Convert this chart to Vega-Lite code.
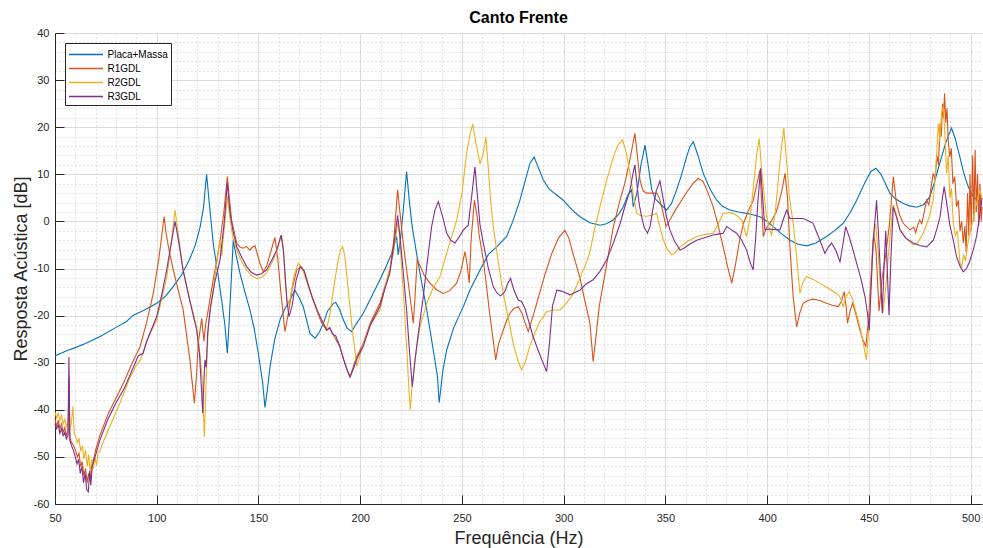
{
"$schema":"https://vega.github.io/schema/vega-lite/v6.json",
"width":927,"height":471,
"autosize":{"type":"none"},
"padding":{"left":55,"top":33,"right":1,"bottom":44},
"background":"white",
"config":{"view":{"stroke":null},"font":"Liberation Sans"},
"title":{"text":"Canto Frente","fontSize":16,"fontWeight":"bold","font":"Liberation Sans","color":"#000000","anchor":"middle","frame":"group","offset":1},
"data":{"values":[
{"serie":"Placa+Massa","freq":50,"db":-28.6},{"serie":"Placa+Massa","freq":53,"db":-28},{"serie":"Placa+Massa","freq":56,"db":-27.4},{"serie":"Placa+Massa","freq":60,"db":-26.8},{"serie":"Placa+Massa","freq":65,"db":-25.9},{"serie":"Placa+Massa","freq":72,"db":-24.5},{"serie":"Placa+Massa","freq":80,"db":-22.5},{"serie":"Placa+Massa","freq":85,"db":-21.3},{"serie":"Placa+Massa","freq":88.5,"db":-19.9},{"serie":"Placa+Massa","freq":94,"db":-18.8},{"serie":"Placa+Massa","freq":100,"db":-17.4},{"serie":"Placa+Massa","freq":104,"db":-16},{"serie":"Placa+Massa","freq":108,"db":-13.9},{"serie":"Placa+Massa","freq":112,"db":-11.5},{"serie":"Placa+Massa","freq":116,"db":-8.2},{"serie":"Placa+Massa","freq":119,"db":-5},{"serie":"Placa+Massa","freq":121.3,"db":-1.2},{"serie":"Placa+Massa","freq":123,"db":3},{"serie":"Placa+Massa","freq":124.5,"db":10},{"serie":"Placa+Massa","freq":125.8,"db":4},{"serie":"Placa+Massa","freq":127.8,"db":-4.8},{"serie":"Placa+Massa","freq":130,"db":-11},{"serie":"Placa+Massa","freq":131.9,"db":-16.7},{"serie":"Placa+Massa","freq":133.5,"db":-22},{"serie":"Placa+Massa","freq":134.7,"db":-28},{"serie":"Placa+Massa","freq":135.5,"db":-22},{"serie":"Placa+Massa","freq":136.3,"db":-15.3},{"serie":"Placa+Massa","freq":137.6,"db":-4},{"serie":"Placa+Massa","freq":138.2,"db":-5.5},{"serie":"Placa+Massa","freq":140.9,"db":-11},{"serie":"Placa+Massa","freq":143,"db":-14.5},{"serie":"Placa+Massa","freq":145.8,"db":-18.8},{"serie":"Placa+Massa","freq":148,"db":-23},{"serie":"Placa+Massa","freq":149.9,"db":-28},{"serie":"Placa+Massa","freq":152,"db":-34},{"serie":"Placa+Massa","freq":153.2,"db":-39.5},{"serie":"Placa+Massa","freq":154.3,"db":-36},{"serie":"Placa+Massa","freq":155.7,"db":-30.8},{"serie":"Placa+Massa","freq":158,"db":-25},{"serie":"Placa+Massa","freq":160.6,"db":-20.9},{"serie":"Placa+Massa","freq":163,"db":-18.5},{"serie":"Placa+Massa","freq":165.5,"db":-16.7},{"serie":"Placa+Massa","freq":167.9,"db":-14.6},{"serie":"Placa+Massa","freq":170,"db":-16.2},{"serie":"Placa+Massa","freq":172,"db":-18.1},{"serie":"Placa+Massa","freq":175.3,"db":-23.8},{"serie":"Placa+Massa","freq":177.8,"db":-24.8},{"serie":"Placa+Massa","freq":180,"db":-23.5},{"serie":"Placa+Massa","freq":181.9,"db":-21.6},{"serie":"Placa+Massa","freq":184,"db":-19},{"serie":"Placa+Massa","freq":186.8,"db":-17.4},{"serie":"Placa+Massa","freq":188,"db":-17.2},{"serie":"Placa+Massa","freq":190,"db":-18.8},{"serie":"Placa+Massa","freq":191.7,"db":-20.9},{"serie":"Placa+Massa","freq":193.5,"db":-22.6},{"serie":"Placa+Massa","freq":195.8,"db":-23.4},{"serie":"Placa+Massa","freq":198,"db":-21.8},{"serie":"Placa+Massa","freq":201.5,"db":-19.5},{"serie":"Placa+Massa","freq":205,"db":-16.5},{"serie":"Placa+Massa","freq":209.7,"db":-12.4},{"serie":"Placa+Massa","freq":213,"db":-9.3},{"serie":"Placa+Massa","freq":215.5,"db":-6.8},{"serie":"Placa+Massa","freq":217.9,"db":-3.2},{"serie":"Placa+Massa","freq":218.7,"db":-7.1},{"serie":"Placa+Massa","freq":220,"db":-3},{"serie":"Placa+Massa","freq":221.5,"db":4},{"serie":"Placa+Massa","freq":222.8,"db":10.6},{"serie":"Placa+Massa","freq":224,"db":5},{"serie":"Placa+Massa","freq":225.5,"db":-1},{"serie":"Placa+Massa","freq":227.7,"db":-6.8},{"serie":"Placa+Massa","freq":230,"db":-12.5},{"serie":"Placa+Massa","freq":232.7,"db":-18.8},{"serie":"Placa+Massa","freq":235.9,"db":-27.3},{"serie":"Placa+Massa","freq":238,"db":-33},{"serie":"Placa+Massa","freq":238.8,"db":-38.5},{"serie":"Placa+Massa","freq":239.5,"db":-36},{"serie":"Placa+Massa","freq":240.5,"db":-32},{"serie":"Placa+Massa","freq":242.5,"db":-27.3},{"serie":"Placa+Massa","freq":246,"db":-22.5},{"serie":"Placa+Massa","freq":250.7,"db":-18.1},{"serie":"Placa+Massa","freq":254,"db":-14.5},{"serie":"Placa+Massa","freq":258.9,"db":-10.3},{"serie":"Placa+Massa","freq":263,"db":-7},{"serie":"Placa+Massa","freq":267.1,"db":-5.4},{"serie":"Placa+Massa","freq":272,"db":-3.2},{"serie":"Placa+Massa","freq":275,"db":0},{"serie":"Placa+Massa","freq":278.5,"db":4.5},{"serie":"Placa+Massa","freq":281,"db":8.5},{"serie":"Placa+Massa","freq":283.4,"db":12.3},{"serie":"Placa+Massa","freq":285.5,"db":13.7},{"serie":"Placa+Massa","freq":287,"db":12},{"serie":"Placa+Massa","freq":290,"db":8.8},{"serie":"Placa+Massa","freq":293,"db":6.8},{"serie":"Placa+Massa","freq":296.6,"db":5.6},{"serie":"Placa+Massa","freq":299.8,"db":4.5},{"serie":"Placa+Massa","freq":304,"db":2.5},{"serie":"Placa+Massa","freq":308,"db":1},{"serie":"Placa+Massa","freq":312.9,"db":-0.3},{"serie":"Placa+Massa","freq":317.8,"db":-0.8},{"serie":"Placa+Massa","freq":321,"db":-0.5},{"serie":"Placa+Massa","freq":324.4,"db":0.3},{"serie":"Placa+Massa","freq":327,"db":1.5},{"serie":"Placa+Massa","freq":329.3,"db":3.1},{"serie":"Placa+Massa","freq":331.5,"db":5.5},{"serie":"Placa+Massa","freq":333.4,"db":6.7},{"serie":"Placa+Massa","freq":334.2,"db":3.1},{"serie":"Placa+Massa","freq":336,"db":6},{"serie":"Placa+Massa","freq":338,"db":12},{"serie":"Placa+Massa","freq":340,"db":16.2},{"serie":"Placa+Massa","freq":341.5,"db":12},{"serie":"Placa+Massa","freq":343.3,"db":6.7},{"serie":"Placa+Massa","freq":345,"db":4.8},{"serie":"Placa+Massa","freq":347.3,"db":3.8},{"serie":"Placa+Massa","freq":350.6,"db":2.4},{"serie":"Placa+Massa","freq":353,"db":3.8},{"serie":"Placa+Massa","freq":355.5,"db":6.7},{"serie":"Placa+Massa","freq":358,"db":10},{"serie":"Placa+Massa","freq":360.4,"db":13.7},{"serie":"Placa+Massa","freq":362,"db":15.8},{"serie":"Placa+Massa","freq":363.7,"db":16.9},{"serie":"Placa+Massa","freq":366,"db":14},{"serie":"Placa+Massa","freq":368.6,"db":10.2},{"serie":"Placa+Massa","freq":372,"db":6.8},{"serie":"Placa+Massa","freq":375.2,"db":4.5},{"serie":"Placa+Massa","freq":378,"db":3.2},{"serie":"Placa+Massa","freq":381.7,"db":2.4},{"serie":"Placa+Massa","freq":386,"db":2},{"serie":"Placa+Massa","freq":389.9,"db":1.7},{"serie":"Placa+Massa","freq":393,"db":1.4},{"serie":"Placa+Massa","freq":396.5,"db":1},{"serie":"Placa+Massa","freq":400,"db":0},{"serie":"Placa+Massa","freq":403,"db":-1.1},{"serie":"Placa+Massa","freq":407,"db":-2.6},{"serie":"Placa+Massa","freq":411.2,"db":-4},{"serie":"Placa+Massa","freq":415,"db":-4.8},{"serie":"Placa+Massa","freq":419.4,"db":-5.2},{"serie":"Placa+Massa","freq":424,"db":-4.6},{"serie":"Placa+Massa","freq":429.2,"db":-3.2},{"serie":"Placa+Massa","freq":433,"db":-2},{"serie":"Placa+Massa","freq":437.4,"db":-0.4},{"serie":"Placa+Massa","freq":441,"db":2},{"serie":"Placa+Massa","freq":444,"db":4.5},{"serie":"Placa+Massa","freq":448,"db":8.2},{"serie":"Placa+Massa","freq":451,"db":10.6},{"serie":"Placa+Massa","freq":453.4,"db":11.3},{"serie":"Placa+Massa","freq":456,"db":10},{"serie":"Placa+Massa","freq":460.3,"db":6},{"serie":"Placa+Massa","freq":463,"db":4.8},{"serie":"Placa+Massa","freq":466.9,"db":3.8},{"serie":"Placa+Massa","freq":470,"db":3.3},{"serie":"Placa+Massa","freq":473.4,"db":3},{"serie":"Placa+Massa","freq":477,"db":3.6},{"serie":"Placa+Massa","freq":479.9,"db":5.2},{"serie":"Placa+Massa","freq":482,"db":8},{"serie":"Placa+Massa","freq":484.8,"db":12.3},{"serie":"Placa+Massa","freq":488,"db":17},{"serie":"Placa+Massa","freq":490.6,"db":19.8},{"serie":"Placa+Massa","freq":492.5,"db":17.5},{"serie":"Placa+Massa","freq":494.7,"db":13.7},{"serie":"Placa+Massa","freq":496.5,"db":10.5},{"serie":"Placa+Massa","freq":498.8,"db":7.4},{"serie":"Placa+Massa","freq":501.3,"db":5.2},{"serie":"Placa+Massa","freq":503.5,"db":4.5},{"serie":"Placa+Massa","freq":505.6,"db":3.5},
{"serie":"R1GDL","freq":50,"db":-42},{"serie":"R1GDL","freq":50.8,"db":-43.5},{"serie":"R1GDL","freq":51.6,"db":-42.2},{"serie":"R1GDL","freq":52.4,"db":-44},{"serie":"R1GDL","freq":53.2,"db":-43},{"serie":"R1GDL","freq":54,"db":-44.8},{"serie":"R1GDL","freq":54.8,"db":-43.8},{"serie":"R1GDL","freq":55.6,"db":-45.5},{"serie":"R1GDL","freq":56.4,"db":-44.5},{"serie":"R1GDL","freq":56.9,"db":-33},{"serie":"R1GDL","freq":57.3,"db":-46},{"serie":"R1GDL","freq":58,"db":-46.8},{"serie":"R1GDL","freq":59,"db":-47.5},{"serie":"R1GDL","freq":60,"db":-48.5},{"serie":"R1GDL","freq":61,"db":-50},{"serie":"R1GDL","freq":61.8,"db":-49.2},{"serie":"R1GDL","freq":62.6,"db":-52},{"serie":"R1GDL","freq":63.4,"db":-51},{"serie":"R1GDL","freq":64.2,"db":-54},{"serie":"R1GDL","freq":65,"db":-52.5},{"serie":"R1GDL","freq":65.8,"db":-55.5},{"serie":"R1GDL","freq":66.5,"db":-53.5},{"serie":"R1GDL","freq":67.2,"db":-55},{"serie":"R1GDL","freq":68,"db":-52},{"serie":"R1GDL","freq":69,"db":-50.5},{"serie":"R1GDL","freq":70,"db":-48.5},{"serie":"R1GDL","freq":72,"db":-45.5},{"serie":"R1GDL","freq":76,"db":-41},{"serie":"R1GDL","freq":80,"db":-37.5},{"serie":"R1GDL","freq":84,"db":-34},{"serie":"R1GDL","freq":88,"db":-30},{"serie":"R1GDL","freq":91.8,"db":-26.6},{"serie":"R1GDL","freq":95,"db":-21.5},{"serie":"R1GDL","freq":98.3,"db":-15.3},{"serie":"R1GDL","freq":101,"db":-8},{"serie":"R1GDL","freq":102.5,"db":-3},{"serie":"R1GDL","freq":103.6,"db":1},{"serie":"R1GDL","freq":104.6,"db":-2.5},{"serie":"R1GDL","freq":106,"db":-6},{"serie":"R1GDL","freq":108.1,"db":-10.3},{"serie":"R1GDL","freq":110.5,"db":-14.5},{"serie":"R1GDL","freq":113,"db":-18.8},{"serie":"R1GDL","freq":116.3,"db":-29.4},{"serie":"R1GDL","freq":117.5,"db":-34.5},{"serie":"R1GDL","freq":118.5,"db":-38.6},{"serie":"R1GDL","freq":119.5,"db":-33},{"serie":"R1GDL","freq":120.4,"db":-25.9},{"serie":"R1GDL","freq":122.1,"db":-20.6},{"serie":"R1GDL","freq":123.2,"db":-25.5},{"serie":"R1GDL","freq":124,"db":-22},{"serie":"R1GDL","freq":125.3,"db":-18.8},{"serie":"R1GDL","freq":127.5,"db":-13},{"serie":"R1GDL","freq":129.5,"db":-8.3},{"serie":"R1GDL","freq":131.5,"db":-3},{"serie":"R1GDL","freq":133,"db":2},{"serie":"R1GDL","freq":134.7,"db":9.5},{"serie":"R1GDL","freq":135.7,"db":5},{"serie":"R1GDL","freq":136.8,"db":0.2},{"serie":"R1GDL","freq":139.3,"db":-4.6},{"serie":"R1GDL","freq":141,"db":-5.5},{"serie":"R1GDL","freq":142.5,"db":-5.7},{"serie":"R1GDL","freq":144,"db":-5.3},{"serie":"R1GDL","freq":145.8,"db":-6.1},{"serie":"R1GDL","freq":147,"db":-5.5},{"serie":"R1GDL","freq":148.3,"db":-5.2},{"serie":"R1GDL","freq":149.5,"db":-7},{"serie":"R1GDL","freq":150.7,"db":-8.9},{"serie":"R1GDL","freq":152.4,"db":-10.7},{"serie":"R1GDL","freq":154,"db":-9.5},{"serie":"R1GDL","freq":156,"db":-6.5},{"serie":"R1GDL","freq":158.1,"db":-3.4},{"serie":"R1GDL","freq":159.5,"db":-8},{"serie":"R1GDL","freq":161,"db":-15},{"serie":"R1GDL","freq":163,"db":-23.4},{"serie":"R1GDL","freq":164.5,"db":-20},{"serie":"R1GDL","freq":166.5,"db":-14.5},{"serie":"R1GDL","freq":168.8,"db":-10.3},{"serie":"R1GDL","freq":171.2,"db":-9.6},{"serie":"R1GDL","freq":173,"db":-11.5},{"serie":"R1GDL","freq":175.5,"db":-15},{"serie":"R1GDL","freq":178.6,"db":-18.8},{"serie":"R1GDL","freq":181,"db":-21.5},{"serie":"R1GDL","freq":183.5,"db":-23.1},{"serie":"R1GDL","freq":185.1,"db":-22.7},{"serie":"R1GDL","freq":188,"db":-25},{"serie":"R1GDL","freq":190,"db":-26.6},{"serie":"R1GDL","freq":192,"db":-29.5},{"serie":"R1GDL","freq":194,"db":-32},{"serie":"R1GDL","freq":195,"db":-33},{"serie":"R1GDL","freq":196.5,"db":-31},{"serie":"R1GDL","freq":198,"db":-29},{"serie":"R1GDL","freq":201.5,"db":-25.9},{"serie":"R1GDL","freq":205,"db":-21.5},{"serie":"R1GDL","freq":209.7,"db":-17.4},{"serie":"R1GDL","freq":212,"db":-14},{"serie":"R1GDL","freq":214.6,"db":-10.3},{"serie":"R1GDL","freq":216.5,"db":-4},{"serie":"R1GDL","freq":218.4,"db":6.7},{"serie":"R1GDL","freq":219.5,"db":2},{"serie":"R1GDL","freq":221,"db":-4},{"serie":"R1GDL","freq":222.8,"db":-10.3},{"serie":"R1GDL","freq":224.5,"db":-16},{"serie":"R1GDL","freq":226.1,"db":-21.6},{"serie":"R1GDL","freq":226.8,"db":-17},{"serie":"R1GDL","freq":228,"db":-8.2},{"serie":"R1GDL","freq":229.5,"db":-9.5},{"serie":"R1GDL","freq":231.5,"db":-11.5},{"serie":"R1GDL","freq":234.3,"db":-13.1},{"serie":"R1GDL","freq":237.5,"db":-14.5},{"serie":"R1GDL","freq":240.8,"db":-15.3},{"serie":"R1GDL","freq":244,"db":-14.7},{"serie":"R1GDL","freq":247.4,"db":-13.1},{"serie":"R1GDL","freq":249.5,"db":-10.5},{"serie":"R1GDL","freq":251.5,"db":-6.4},{"serie":"R1GDL","freq":252.5,"db":-9},{"serie":"R1GDL","freq":253.6,"db":-13.1},{"serie":"R1GDL","freq":254.5,"db":-4},{"serie":"R1GDL","freq":256.1,"db":4.5},{"serie":"R1GDL","freq":257.5,"db":1},{"serie":"R1GDL","freq":258.5,"db":-3},{"serie":"R1GDL","freq":260.5,"db":-8.2},{"serie":"R1GDL","freq":262,"db":-13.5},{"serie":"R1GDL","freq":263.8,"db":-20.2},{"serie":"R1GDL","freq":265.3,"db":-25},{"serie":"R1GDL","freq":266.6,"db":-29.4},{"serie":"R1GDL","freq":268,"db":-26},{"serie":"R1GDL","freq":270.3,"db":-23.1},{"serie":"R1GDL","freq":272,"db":-21},{"serie":"R1GDL","freq":273.6,"db":-19.5},{"serie":"R1GDL","freq":275.5,"db":-18.5},{"serie":"R1GDL","freq":277.7,"db":-18.1},{"serie":"R1GDL","freq":279.5,"db":-19.5},{"serie":"R1GDL","freq":281,"db":-21.5},{"serie":"R1GDL","freq":282.6,"db":-23.4},{"serie":"R1GDL","freq":285,"db":-20},{"serie":"R1GDL","freq":288,"db":-15.5},{"serie":"R1GDL","freq":291,"db":-11},{"serie":"R1GDL","freq":294,"db":-7},{"serie":"R1GDL","freq":297.5,"db":-3.5},{"serie":"R1GDL","freq":300.6,"db":-1.9},{"serie":"R1GDL","freq":302.5,"db":-3.5},{"serie":"R1GDL","freq":305,"db":-7.5},{"serie":"R1GDL","freq":308,"db":-12},{"serie":"R1GDL","freq":310,"db":-16},{"serie":"R1GDL","freq":312.9,"db":-21.6},{"serie":"R1GDL","freq":314.5,"db":-29.8},{"serie":"R1GDL","freq":316,"db":-24},{"serie":"R1GDL","freq":317.5,"db":-18},{"serie":"R1GDL","freq":319.5,"db":-13.1},{"serie":"R1GDL","freq":322,"db":-7},{"serie":"R1GDL","freq":324.5,"db":-1},{"serie":"R1GDL","freq":327.7,"db":4.5},{"serie":"R1GDL","freq":330,"db":8},{"serie":"R1GDL","freq":332.5,"db":13},{"serie":"R1GDL","freq":335,"db":18.7},{"serie":"R1GDL","freq":336.2,"db":14},{"serie":"R1GDL","freq":337.5,"db":8.8},{"serie":"R1GDL","freq":339,"db":6.5},{"serie":"R1GDL","freq":340.8,"db":6},{"serie":"R1GDL","freq":343,"db":6},{"serie":"R1GDL","freq":345.7,"db":6},{"serie":"R1GDL","freq":347,"db":5},{"serie":"R1GDL","freq":348.5,"db":2.5},{"serie":"R1GDL","freq":350.3,"db":-1.1},{"serie":"R1GDL","freq":352.5,"db":0.5},{"serie":"R1GDL","freq":355,"db":2.5},{"serie":"R1GDL","freq":358,"db":4.5},{"serie":"R1GDL","freq":361,"db":6.5},{"serie":"R1GDL","freq":363.5,"db":8},{"serie":"R1GDL","freq":366.2,"db":9.1},{"serie":"R1GDL","freq":368.5,"db":8.5},{"serie":"R1GDL","freq":371,"db":6},{"serie":"R1GDL","freq":373.5,"db":3.1},{"serie":"R1GDL","freq":376,"db":-1},{"serie":"R1GDL","freq":378.4,"db":-5.4},{"serie":"R1GDL","freq":380.5,"db":-9.5},{"serie":"R1GDL","freq":382.6,"db":-13.1},{"serie":"R1GDL","freq":384.5,"db":-9},{"serie":"R1GDL","freq":386.5,"db":-4},{"serie":"R1GDL","freq":388.3,"db":-0.5},{"serie":"R1GDL","freq":391,"db":2.5},{"serie":"R1GDL","freq":393.2,"db":4.5},{"serie":"R1GDL","freq":395,"db":8},{"serie":"R1GDL","freq":396.5,"db":10.9},{"serie":"R1GDL","freq":397.3,"db":4},{"serie":"R1GDL","freq":398.1,"db":-3.2},{"serie":"R1GDL","freq":399.5,"db":-1.5},{"serie":"R1GDL","freq":402,"db":0},{"serie":"R1GDL","freq":404.5,"db":2},{"serie":"R1GDL","freq":407,"db":6},{"serie":"R1GDL","freq":408.8,"db":10.2},{"serie":"R1GDL","freq":410,"db":5},{"serie":"R1GDL","freq":411.2,"db":-5.4},{"serie":"R1GDL","freq":412.8,"db":-16},{"serie":"R1GDL","freq":414.5,"db":-22.4},{"serie":"R1GDL","freq":416,"db":-19.5},{"serie":"R1GDL","freq":417.7,"db":-17.4},{"serie":"R1GDL","freq":420,"db":-16.8},{"serie":"R1GDL","freq":422.6,"db":-16.5},{"serie":"R1GDL","freq":426,"db":-16.8},{"serie":"R1GDL","freq":429.2,"db":-17.4},{"serie":"R1GDL","freq":432,"db":-17.8},{"serie":"R1GDL","freq":434.9,"db":-18.1},{"serie":"R1GDL","freq":436.5,"db":-17},{"serie":"R1GDL","freq":437.9,"db":-14.9},{"serie":"R1GDL","freq":438.8,"db":-18},{"serie":"R1GDL","freq":439.5,"db":-21.6},{"serie":"R1GDL","freq":440.8,"db":-19},{"serie":"R1GDL","freq":442,"db":-17.4},{"serie":"R1GDL","freq":443.5,"db":-19.5},{"serie":"R1GDL","freq":445.6,"db":-23.1},{"serie":"R1GDL","freq":447,"db":-25},{"serie":"R1GDL","freq":448.5,"db":-26.6},{"serie":"R1GDL","freq":450,"db":-20},{"serie":"R1GDL","freq":451.3,"db":-10},{"serie":"R1GDL","freq":452.3,"db":-2.5},{"serie":"R1GDL","freq":453.5,"db":-6},{"serie":"R1GDL","freq":455,"db":-19},{"serie":"R1GDL","freq":456.5,"db":-12},{"serie":"R1GDL","freq":458,"db":-8},{"serie":"R1GDL","freq":460,"db":-1},{"serie":"R1GDL","freq":461,"db":4},{"serie":"R1GDL","freq":462,"db":9.5},{"serie":"R1GDL","freq":463.6,"db":3.8},{"serie":"R1GDL","freq":465,"db":1.5},{"serie":"R1GDL","freq":466.9,"db":-0.4},{"serie":"R1GDL","freq":470.1,"db":-1.8},{"serie":"R1GDL","freq":472,"db":-1.2},{"serie":"R1GDL","freq":473,"db":-2.4},{"serie":"R1GDL","freq":474,"db":-0.8},{"serie":"R1GDL","freq":475,"db":0.3},{"serie":"R1GDL","freq":476,"db":-0.5},{"serie":"R1GDL","freq":477,"db":1.5},{"serie":"R1GDL","freq":478.4,"db":4.5},{"serie":"R1GDL","freq":479.5,"db":3.5},{"serie":"R1GDL","freq":480.5,"db":7},{"serie":"R1GDL","freq":481.6,"db":10.2},{"serie":"R1GDL","freq":482.5,"db":9},{"serie":"R1GDL","freq":483.5,"db":14},{"serie":"R1GDL","freq":484.2,"db":12},{"serie":"R1GDL","freq":485,"db":20.8},{"serie":"R1GDL","freq":485.6,"db":18},{"serie":"R1GDL","freq":486.2,"db":25},{"serie":"R1GDL","freq":486.7,"db":22},{"serie":"R1GDL","freq":487.2,"db":27.2},{"serie":"R1GDL","freq":487.8,"db":21},{"serie":"R1GDL","freq":488.4,"db":24},{"serie":"R1GDL","freq":489,"db":17},{"serie":"R1GDL","freq":489.8,"db":13.7},{"serie":"R1GDL","freq":490.5,"db":15.5},{"serie":"R1GDL","freq":491.3,"db":8},{"serie":"R1GDL","freq":492.2,"db":9.5},{"serie":"R1GDL","freq":493.1,"db":3.1},{"serie":"R1GDL","freq":494,"db":4.5},{"serie":"R1GDL","freq":494.8,"db":-2},{"serie":"R1GDL","freq":495.6,"db":0},{"serie":"R1GDL","freq":496.4,"db":-4.6},{"serie":"R1GDL","freq":497.2,"db":-1},{"serie":"R1GDL","freq":497.8,"db":-6.5},{"serie":"R1GDL","freq":498.5,"db":6},{"serie":"R1GDL","freq":499.1,"db":-3},{"serie":"R1GDL","freq":499.7,"db":10},{"serie":"R1GDL","freq":500.3,"db":-2},{"serie":"R1GDL","freq":501,"db":14},{"serie":"R1GDL","freq":501.6,"db":0},{"serie":"R1GDL","freq":502.2,"db":15.2},{"serie":"R1GDL","freq":502.8,"db":2},{"serie":"R1GDL","freq":503.4,"db":10},{"serie":"R1GDL","freq":504,"db":-1},{"serie":"R1GDL","freq":504.6,"db":8},{"serie":"R1GDL","freq":505.2,"db":0},{"serie":"R1GDL","freq":505.6,"db":3.1},
{"serie":"R2GDL","freq":50,"db":-40.5},{"serie":"R2GDL","freq":50.8,"db":-41.8},{"serie":"R2GDL","freq":51.6,"db":-40.6},{"serie":"R2GDL","freq":52.4,"db":-42.2},{"serie":"R2GDL","freq":53.2,"db":-41.2},{"serie":"R2GDL","freq":54,"db":-43},{"serie":"R2GDL","freq":54.8,"db":-42},{"serie":"R2GDL","freq":55.6,"db":-43.5},{"serie":"R2GDL","freq":56.4,"db":-42.4},{"serie":"R2GDL","freq":57.2,"db":-44.2},{"serie":"R2GDL","freq":58,"db":-43},{"serie":"R2GDL","freq":58.8,"db":-39.3},{"serie":"R2GDL","freq":59.5,"db":-45},{"serie":"R2GDL","freq":60.2,"db":-45.8},{"serie":"R2GDL","freq":61,"db":-47},{"serie":"R2GDL","freq":61.8,"db":-46},{"serie":"R2GDL","freq":62.6,"db":-48.8},{"serie":"R2GDL","freq":63.4,"db":-47.6},{"serie":"R2GDL","freq":64.2,"db":-50.5},{"serie":"R2GDL","freq":65,"db":-48.5},{"serie":"R2GDL","freq":65.8,"db":-52},{"serie":"R2GDL","freq":66.6,"db":-49.5},{"serie":"R2GDL","freq":67.3,"db":-53.4},{"serie":"R2GDL","freq":68,"db":-50.5},{"serie":"R2GDL","freq":68.8,"db":-52.5},{"serie":"R2GDL","freq":69.6,"db":-50},{"serie":"R2GDL","freq":70.4,"db":-51.8},{"serie":"R2GDL","freq":71.2,"db":-49},{"serie":"R2GDL","freq":72,"db":-48.8},{"serie":"R2GDL","freq":74,"db":-46.5},{"serie":"R2GDL","freq":78,"db":-42.5},{"serie":"R2GDL","freq":82,"db":-38.5},{"serie":"R2GDL","freq":86,"db":-34},{"serie":"R2GDL","freq":90,"db":-30.5},{"serie":"R2GDL","freq":92,"db":-29.4},{"serie":"R2GDL","freq":96,"db":-24.5},{"serie":"R2GDL","freq":100,"db":-20.9},{"serie":"R2GDL","freq":103,"db":-15.5},{"serie":"R2GDL","freq":105,"db":-11.7},{"serie":"R2GDL","freq":107,"db":-5},{"serie":"R2GDL","freq":109,"db":2.4},{"serie":"R2GDL","freq":110.5,"db":-2.5},{"serie":"R2GDL","freq":113,"db":-10.3},{"serie":"R2GDL","freq":116.3,"db":-16.7},{"serie":"R2GDL","freq":119.6,"db":-22.4},{"serie":"R2GDL","freq":121,"db":-27},{"serie":"R2GDL","freq":122.3,"db":-33},{"serie":"R2GDL","freq":123.4,"db":-45.7},{"serie":"R2GDL","freq":124.2,"db":-35},{"serie":"R2GDL","freq":125.3,"db":-22.4},{"serie":"R2GDL","freq":127.5,"db":-15},{"serie":"R2GDL","freq":129.5,"db":-9},{"serie":"R2GDL","freq":131.1,"db":-3.7},{"serie":"R2GDL","freq":131.9,"db":-7.4},{"serie":"R2GDL","freq":132.8,"db":-3},{"serie":"R2GDL","freq":134,"db":2},{"serie":"R2GDL","freq":134.8,"db":5.3},{"serie":"R2GDL","freq":136,"db":0.5},{"serie":"R2GDL","freq":137.5,"db":-3.5},{"serie":"R2GDL","freq":139.3,"db":-6.1},{"serie":"R2GDL","freq":142,"db":-8.8},{"serie":"R2GDL","freq":144.2,"db":-10.3},{"serie":"R2GDL","freq":146.5,"db":-11.5},{"serie":"R2GDL","freq":149.1,"db":-12.1},{"serie":"R2GDL","freq":151.5,"db":-11.9},{"serie":"R2GDL","freq":154,"db":-11},{"serie":"R2GDL","freq":157.3,"db":-8.2},{"serie":"R2GDL","freq":159.5,"db":-5.5},{"serie":"R2GDL","freq":161.4,"db":-2.9},{"serie":"R2GDL","freq":162.3,"db":-6},{"serie":"R2GDL","freq":163.2,"db":-13},{"serie":"R2GDL","freq":164.2,"db":-18},{"serie":"R2GDL","freq":165.5,"db":-16.5},{"serie":"R2GDL","freq":167.5,"db":-11.5},{"serie":"R2GDL","freq":169.6,"db":-8.9},{"serie":"R2GDL","freq":171.5,"db":-9.8},{"serie":"R2GDL","freq":173.5,"db":-12.5},{"serie":"R2GDL","freq":176.9,"db":-16.7},{"serie":"R2GDL","freq":179.5,"db":-19.5},{"serie":"R2GDL","freq":181.8,"db":-21.6},{"serie":"R2GDL","freq":183.5,"db":-22.7},{"serie":"R2GDL","freq":185,"db":-20},{"serie":"R2GDL","freq":187,"db":-14},{"serie":"R2GDL","freq":189,"db":-8.5},{"serie":"R2GDL","freq":190.3,"db":-6},{"serie":"R2GDL","freq":191.4,"db":-5.4},{"serie":"R2GDL","freq":192.5,"db":-7.5},{"serie":"R2GDL","freq":194,"db":-14},{"serie":"R2GDL","freq":196,"db":-22.5},{"serie":"R2GDL","freq":198.3,"db":-30.8},{"serie":"R2GDL","freq":199.5,"db":-29},{"serie":"R2GDL","freq":201.5,"db":-26},{"serie":"R2GDL","freq":205,"db":-22},{"serie":"R2GDL","freq":209.7,"db":-18.8},{"serie":"R2GDL","freq":213,"db":-12.5},{"serie":"R2GDL","freq":216.3,"db":-6.8},{"serie":"R2GDL","freq":218.7,"db":0.2},{"serie":"R2GDL","freq":219.8,"db":-6},{"serie":"R2GDL","freq":221.5,"db":-17},{"serie":"R2GDL","freq":223,"db":-28},{"serie":"R2GDL","freq":224,"db":-36},{"serie":"R2GDL","freq":224.6,"db":-40},{"serie":"R2GDL","freq":225.5,"db":-35},{"serie":"R2GDL","freq":227.5,"db":-27.5},{"serie":"R2GDL","freq":229.4,"db":-22.4},{"serie":"R2GDL","freq":233,"db":-17},{"serie":"R2GDL","freq":236,"db":-14},{"serie":"R2GDL","freq":239.2,"db":-11.7},{"serie":"R2GDL","freq":243,"db":-6},{"serie":"R2GDL","freq":247.4,"db":0.2},{"serie":"R2GDL","freq":250,"db":6},{"serie":"R2GDL","freq":252.3,"db":14.5},{"serie":"R2GDL","freq":254,"db":18.5},{"serie":"R2GDL","freq":255.3,"db":20.7},{"serie":"R2GDL","freq":256.5,"db":17.5},{"serie":"R2GDL","freq":258.9,"db":12.2},{"serie":"R2GDL","freq":260.5,"db":14.5},{"serie":"R2GDL","freq":261.8,"db":17.9},{"serie":"R2GDL","freq":263,"db":11},{"serie":"R2GDL","freq":264.2,"db":4},{"serie":"R2GDL","freq":265.4,"db":-1.1},{"serie":"R2GDL","freq":268,"db":-9},{"serie":"R2GDL","freq":270.3,"db":-15.3},{"serie":"R2GDL","freq":273,"db":-21},{"serie":"R2GDL","freq":275.2,"db":-25.9},{"serie":"R2GDL","freq":277.5,"db":-29.5},{"serie":"R2GDL","freq":279.3,"db":-31.5},{"serie":"R2GDL","freq":281,"db":-30},{"serie":"R2GDL","freq":283,"db":-27},{"serie":"R2GDL","freq":285,"db":-24.5},{"serie":"R2GDL","freq":288,"db":-21.5},{"serie":"R2GDL","freq":291.6,"db":-19.2},{"serie":"R2GDL","freq":295,"db":-18.8},{"serie":"R2GDL","freq":298.2,"db":-18.8},{"serie":"R2GDL","freq":301.5,"db":-17.3},{"serie":"R2GDL","freq":304.7,"db":-15.3},{"serie":"R2GDL","freq":308,"db":-12},{"serie":"R2GDL","freq":310.5,"db":-9.5},{"serie":"R2GDL","freq":312.9,"db":-6.5},{"serie":"R2GDL","freq":315,"db":-2},{"serie":"R2GDL","freq":317.8,"db":3.1},{"serie":"R2GDL","freq":321,"db":8.5},{"serie":"R2GDL","freq":324.4,"db":13.7},{"serie":"R2GDL","freq":326.8,"db":16.3},{"serie":"R2GDL","freq":329,"db":17.3},{"serie":"R2GDL","freq":330.8,"db":14.5},{"serie":"R2GDL","freq":332.6,"db":10.2},{"serie":"R2GDL","freq":334.3,"db":5.5},{"serie":"R2GDL","freq":335.9,"db":1.7},{"serie":"R2GDL","freq":338,"db":1.2},{"serie":"R2GDL","freq":340.8,"db":1.1},{"serie":"R2GDL","freq":343,"db":1.3},{"serie":"R2GDL","freq":345.7,"db":1.7},{"serie":"R2GDL","freq":347.3,"db":-1.2},{"serie":"R2GDL","freq":349,"db":-4},{"serie":"R2GDL","freq":351,"db":-6},{"serie":"R2GDL","freq":353.1,"db":-7.1},{"serie":"R2GDL","freq":355,"db":-6.5},{"serie":"R2GDL","freq":357.2,"db":-5.4},{"serie":"R2GDL","freq":361,"db":-4.2},{"serie":"R2GDL","freq":365.4,"db":-3.2},{"serie":"R2GDL","freq":369.5,"db":-2.8},{"serie":"R2GDL","freq":373.5,"db":-2.5},{"serie":"R2GDL","freq":376,"db":-0.5},{"serie":"R2GDL","freq":378.4,"db":1.7},{"serie":"R2GDL","freq":381,"db":1.9},{"serie":"R2GDL","freq":383.3,"db":1.7},{"serie":"R2GDL","freq":385.5,"db":1.1},{"serie":"R2GDL","freq":387.5,"db":0.3},{"serie":"R2GDL","freq":389.9,"db":-3.2},{"serie":"R2GDL","freq":391.5,"db":0.5},{"serie":"R2GDL","freq":393.2,"db":7},{"serie":"R2GDL","freq":394.8,"db":14},{"serie":"R2GDL","freq":396.1,"db":17.6},{"serie":"R2GDL","freq":397.5,"db":10},{"serie":"R2GDL","freq":399.7,"db":1},{"serie":"R2GDL","freq":401,"db":-1.5},{"serie":"R2GDL","freq":402.2,"db":-2.9},{"serie":"R2GDL","freq":404,"db":2},{"serie":"R2GDL","freq":405.5,"db":9},{"serie":"R2GDL","freq":407,"db":15.5},{"serie":"R2GDL","freq":408.2,"db":19.8},{"serie":"R2GDL","freq":409.5,"db":13},{"serie":"R2GDL","freq":411,"db":5},{"serie":"R2GDL","freq":412.8,"db":-0.4},{"serie":"R2GDL","freq":414.5,"db":-7.5},{"serie":"R2GDL","freq":416.1,"db":-15.3},{"serie":"R2GDL","freq":417.5,"db":-13},{"serie":"R2GDL","freq":419.4,"db":-11.7},{"serie":"R2GDL","freq":422.5,"db":-12.3},{"serie":"R2GDL","freq":425.9,"db":-13.1},{"serie":"R2GDL","freq":430,"db":-14.2},{"serie":"R2GDL","freq":434.1,"db":-15.3},{"serie":"R2GDL","freq":435.8,"db":-16},{"serie":"R2GDL","freq":437.4,"db":-18.1},{"serie":"R2GDL","freq":438.8,"db":-16},{"serie":"R2GDL","freq":440.3,"db":-14.9},{"serie":"R2GDL","freq":442,"db":-16.5},{"serie":"R2GDL","freq":443.8,"db":-19.5},{"serie":"R2GDL","freq":445.6,"db":-22.4},{"serie":"R2GDL","freq":447.3,"db":-26},{"serie":"R2GDL","freq":448.8,"db":-29.4},{"serie":"R2GDL","freq":450,"db":-22},{"serie":"R2GDL","freq":451.5,"db":-10},{"serie":"R2GDL","freq":452.6,"db":-2},{"serie":"R2GDL","freq":453.3,"db":-0.5},{"serie":"R2GDL","freq":454.5,"db":-6},{"serie":"R2GDL","freq":455.7,"db":-14},{"serie":"R2GDL","freq":456.9,"db":-19.5},{"serie":"R2GDL","freq":458.3,"db":-14},{"serie":"R2GDL","freq":459.8,"db":-6},{"serie":"R2GDL","freq":461,"db":-0.5},{"serie":"R2GDL","freq":461.9,"db":3.5},{"serie":"R2GDL","freq":463.5,"db":1.5},{"serie":"R2GDL","freq":465.3,"db":-1.8},{"serie":"R2GDL","freq":468,"db":-3.5},{"serie":"R2GDL","freq":471.8,"db":-5},{"serie":"R2GDL","freq":474,"db":-4.5},{"serie":"R2GDL","freq":476.7,"db":-2.5},{"serie":"R2GDL","freq":478.5,"db":-0.5},{"serie":"R2GDL","freq":480,"db":1.5},{"serie":"R2GDL","freq":481.6,"db":4.5},{"serie":"R2GDL","freq":482.5,"db":9},{"serie":"R2GDL","freq":483.3,"db":14},{"serie":"R2GDL","freq":484.1,"db":20.8},{"serie":"R2GDL","freq":484.9,"db":17},{"serie":"R2GDL","freq":485.7,"db":23},{"serie":"R2GDL","freq":486.6,"db":24.4},{"serie":"R2GDL","freq":487.3,"db":19},{"serie":"R2GDL","freq":488.2,"db":10.2},{"serie":"R2GDL","freq":489,"db":14},{"serie":"R2GDL","freq":489.8,"db":5},{"serie":"R2GDL","freq":490.6,"db":7},{"serie":"R2GDL","freq":491.5,"db":-0.4},{"serie":"R2GDL","freq":492.5,"db":-3},{"serie":"R2GDL","freq":493.5,"db":-2},{"serie":"R2GDL","freq":494.8,"db":-8.9},{"serie":"R2GDL","freq":495.7,"db":-9.6},{"serie":"R2GDL","freq":496.6,"db":-7},{"serie":"R2GDL","freq":497.5,"db":-8.5},{"serie":"R2GDL","freq":498.5,"db":-5},{"serie":"R2GDL","freq":499.7,"db":-2.5},{"serie":"R2GDL","freq":501,"db":0},{"serie":"R2GDL","freq":502.5,"db":3},{"serie":"R2GDL","freq":504.5,"db":6.7},{"serie":"R2GDL","freq":505.6,"db":5},
{"serie":"R3GDL","freq":50,"db":-43},{"serie":"R3GDL","freq":50.8,"db":-44},{"serie":"R3GDL","freq":51.6,"db":-43.2},{"serie":"R3GDL","freq":52.4,"db":-45},{"serie":"R3GDL","freq":53.2,"db":-44},{"serie":"R3GDL","freq":54,"db":-45.5},{"serie":"R3GDL","freq":54.8,"db":-44.8},{"serie":"R3GDL","freq":55.6,"db":-46.2},{"serie":"R3GDL","freq":56.4,"db":-45.5},{"serie":"R3GDL","freq":56.85,"db":-28.8},{"serie":"R3GDL","freq":57.3,"db":-46.5},{"serie":"R3GDL","freq":58,"db":-47.5},{"serie":"R3GDL","freq":59,"db":-48.5},{"serie":"R3GDL","freq":60,"db":-50},{"serie":"R3GDL","freq":60.8,"db":-51.5},{"serie":"R3GDL","freq":61.6,"db":-50.5},{"serie":"R3GDL","freq":62.4,"db":-53.5},{"serie":"R3GDL","freq":63.2,"db":-52},{"serie":"R3GDL","freq":64,"db":-55.5},{"serie":"R3GDL","freq":64.8,"db":-53.5},{"serie":"R3GDL","freq":65.6,"db":-57},{"serie":"R3GDL","freq":66.4,"db":-57.4},{"serie":"R3GDL","freq":67,"db":-53},{"serie":"R3GDL","freq":67.6,"db":-56},{"serie":"R3GDL","freq":68.3,"db":-52},{"serie":"R3GDL","freq":69,"db":-51},{"serie":"R3GDL","freq":70,"db":-49.5},{"serie":"R3GDL","freq":72,"db":-46.5},{"serie":"R3GDL","freq":76,"db":-42},{"serie":"R3GDL","freq":80,"db":-38.5},{"serie":"R3GDL","freq":84,"db":-35.5},{"serie":"R3GDL","freq":88,"db":-31.5},{"serie":"R3GDL","freq":91,"db":-28.5},{"serie":"R3GDL","freq":93.3,"db":-28},{"serie":"R3GDL","freq":95,"db":-25.5},{"serie":"R3GDL","freq":100,"db":-20.2},{"serie":"R3GDL","freq":102.5,"db":-15.5},{"serie":"R3GDL","freq":104.9,"db":-10.3},{"serie":"R3GDL","freq":107,"db":-5},{"serie":"R3GDL","freq":109,"db":0},{"serie":"R3GDL","freq":110.5,"db":-3.5},{"serie":"R3GDL","freq":113,"db":-10.5},{"serie":"R3GDL","freq":116.3,"db":-17},{"serie":"R3GDL","freq":119.6,"db":-23},{"serie":"R3GDL","freq":121,"db":-28},{"serie":"R3GDL","freq":122.1,"db":-36.5},{"serie":"R3GDL","freq":122.6,"db":-40.7},{"serie":"R3GDL","freq":123.2,"db":-34},{"serie":"R3GDL","freq":123.7,"db":-29.4},{"serie":"R3GDL","freq":124.3,"db":-31},{"serie":"R3GDL","freq":125,"db":-24},{"serie":"R3GDL","freq":126.2,"db":-18.8},{"serie":"R3GDL","freq":128.5,"db":-13},{"serie":"R3GDL","freq":131.1,"db":-8.2},{"serie":"R3GDL","freq":133,"db":-1},{"serie":"R3GDL","freq":134.7,"db":8.1},{"serie":"R3GDL","freq":136,"db":2},{"serie":"R3GDL","freq":137.5,"db":-2},{"serie":"R3GDL","freq":139.3,"db":-5.4},{"serie":"R3GDL","freq":142,"db":-7.8},{"serie":"R3GDL","freq":144.2,"db":-9.6},{"serie":"R3GDL","freq":146.5,"db":-10.8},{"serie":"R3GDL","freq":149.1,"db":-11.4},{"serie":"R3GDL","freq":151.5,"db":-11.1},{"serie":"R3GDL","freq":154,"db":-10.3},{"serie":"R3GDL","freq":157,"db":-7.8},{"serie":"R3GDL","freq":159,"db":-6.1},{"serie":"R3GDL","freq":161.1,"db":-2.9},{"serie":"R3GDL","freq":162.2,"db":-6},{"serie":"R3GDL","freq":163.2,"db":-12},{"serie":"R3GDL","freq":164,"db":-17},{"serie":"R3GDL","freq":165,"db":-20.2},{"serie":"R3GDL","freq":166.5,"db":-18},{"serie":"R3GDL","freq":168.5,"db":-12.5},{"serie":"R3GDL","freq":170.5,"db":-9.6},{"serie":"R3GDL","freq":172.5,"db":-10.5},{"serie":"R3GDL","freq":174.5,"db":-13.5},{"serie":"R3GDL","freq":176.9,"db":-16.7},{"serie":"R3GDL","freq":179,"db":-19},{"serie":"R3GDL","freq":181.8,"db":-21.6},{"serie":"R3GDL","freq":183.5,"db":-23.1},{"serie":"R3GDL","freq":185,"db":-22.5},{"serie":"R3GDL","freq":186.5,"db":-24},{"serie":"R3GDL","freq":188,"db":-24.3},{"serie":"R3GDL","freq":190,"db":-26.6},{"serie":"R3GDL","freq":192,"db":-29.5},{"serie":"R3GDL","freq":193.5,"db":-31.5},{"serie":"R3GDL","freq":195,"db":-33},{"serie":"R3GDL","freq":196.5,"db":-31.5},{"serie":"R3GDL","freq":198.5,"db":-29},{"serie":"R3GDL","freq":201.5,"db":-26.5},{"serie":"R3GDL","freq":205,"db":-22},{"serie":"R3GDL","freq":209.7,"db":-18},{"serie":"R3GDL","freq":212,"db":-14.5},{"serie":"R3GDL","freq":214.6,"db":-11},{"serie":"R3GDL","freq":216.5,"db":-5},{"serie":"R3GDL","freq":218.4,"db":1.3},{"serie":"R3GDL","freq":219.5,"db":-3},{"serie":"R3GDL","freq":221,"db":-10},{"serie":"R3GDL","freq":222.8,"db":-18.8},{"serie":"R3GDL","freq":224.3,"db":-28},{"serie":"R3GDL","freq":225.6,"db":-35.1},{"serie":"R3GDL","freq":226.8,"db":-30},{"serie":"R3GDL","freq":228.5,"db":-24},{"serie":"R3GDL","freq":231,"db":-16},{"serie":"R3GDL","freq":233,"db":-8.5},{"serie":"R3GDL","freq":235.1,"db":-1.1},{"serie":"R3GDL","freq":236.8,"db":2.5},{"serie":"R3GDL","freq":238.4,"db":4.2},{"serie":"R3GDL","freq":240.5,"db":1},{"serie":"R3GDL","freq":242.5,"db":-2.5},{"serie":"R3GDL","freq":244.5,"db":-4},{"serie":"R3GDL","freq":246.6,"db":-4.6},{"serie":"R3GDL","freq":248.5,"db":-3.4},{"serie":"R3GDL","freq":250.7,"db":-1.8},{"serie":"R3GDL","freq":253.1,"db":-0.8},{"serie":"R3GDL","freq":254.7,"db":5},{"serie":"R3GDL","freq":256.4,"db":11.6},{"serie":"R3GDL","freq":257.5,"db":6},{"serie":"R3GDL","freq":258.8,"db":-0.5},{"serie":"R3GDL","freq":260.5,"db":-4.6},{"serie":"R3GDL","freq":263,"db":-10},{"serie":"R3GDL","freq":265.4,"db":-13.9},{"serie":"R3GDL","freq":267.2,"db":-15.2},{"serie":"R3GDL","freq":269,"db":-15.8},{"serie":"R3GDL","freq":271,"db":-15},{"serie":"R3GDL","freq":272.5,"db":-13.2},{"serie":"R3GDL","freq":273.9,"db":-12.1},{"serie":"R3GDL","freq":275.5,"db":-14.5},{"serie":"R3GDL","freq":277.7,"db":-16.7},{"serie":"R3GDL","freq":279.3,"db":-17},{"serie":"R3GDL","freq":281,"db":-18.5},{"serie":"R3GDL","freq":283,"db":-21.5},{"serie":"R3GDL","freq":285,"db":-24.5},{"serie":"R3GDL","freq":288,"db":-28},{"serie":"R3GDL","freq":291.6,"db":-31.9},{"serie":"R3GDL","freq":293,"db":-26},{"serie":"R3GDL","freq":294.5,"db":-18},{"serie":"R3GDL","freq":296.6,"db":-14.6},{"serie":"R3GDL","freq":299,"db":-14.8},{"serie":"R3GDL","freq":303.1,"db":-15.6},{"serie":"R3GDL","freq":306,"db":-15},{"serie":"R3GDL","freq":308,"db":-14.6},{"serie":"R3GDL","freq":311,"db":-13.3},{"serie":"R3GDL","freq":314.5,"db":-12.4},{"serie":"R3GDL","freq":318,"db":-10.5},{"serie":"R3GDL","freq":321.1,"db":-8.2},{"serie":"R3GDL","freq":324.5,"db":-4.5},{"serie":"R3GDL","freq":327.7,"db":-0.5},{"serie":"R3GDL","freq":330,"db":3},{"serie":"R3GDL","freq":332.6,"db":6.7},{"serie":"R3GDL","freq":334,"db":10},{"serie":"R3GDL","freq":335,"db":12},{"serie":"R3GDL","freq":336,"db":8},{"serie":"R3GDL","freq":337,"db":4},{"serie":"R3GDL","freq":338.3,"db":1},{"serie":"R3GDL","freq":339.5,"db":-1.2},{"serie":"R3GDL","freq":341.2,"db":-2.5},{"serie":"R3GDL","freq":342.5,"db":-1},{"serie":"R3GDL","freq":344,"db":3},{"serie":"R3GDL","freq":345.5,"db":6.5},{"serie":"R3GDL","freq":347.3,"db":8.6},{"serie":"R3GDL","freq":348.8,"db":5},{"serie":"R3GDL","freq":350.5,"db":1},{"serie":"R3GDL","freq":352.2,"db":-1.8},{"serie":"R3GDL","freq":354.5,"db":-4.2},{"serie":"R3GDL","freq":357.2,"db":-6.1},{"serie":"R3GDL","freq":359.5,"db":-5.6},{"serie":"R3GDL","freq":362,"db":-4.8},{"serie":"R3GDL","freq":365.4,"db":-4},{"serie":"R3GDL","freq":369.5,"db":-3.4},{"serie":"R3GDL","freq":373.5,"db":-2.9},{"serie":"R3GDL","freq":376,"db":-2.7},{"serie":"R3GDL","freq":378.4,"db":-2.5},{"serie":"R3GDL","freq":380.1,"db":-1.1},{"serie":"R3GDL","freq":382.5,"db":-1.8},{"serie":"R3GDL","freq":385,"db":-2.5},{"serie":"R3GDL","freq":387.5,"db":-4},{"serie":"R3GDL","freq":389.9,"db":-6.1},{"serie":"R3GDL","freq":391.5,"db":-8.5},{"serie":"R3GDL","freq":393.1,"db":-10.3},{"serie":"R3GDL","freq":394.3,"db":-4},{"serie":"R3GDL","freq":395.5,"db":4.5},{"serie":"R3GDL","freq":396.8,"db":11.3},{"serie":"R3GDL","freq":397.8,"db":5},{"serie":"R3GDL","freq":398.9,"db":-1.8},{"serie":"R3GDL","freq":400.5,"db":-1.6},{"serie":"R3GDL","freq":403,"db":-1.7},{"serie":"R3GDL","freq":406.3,"db":-1.8},{"serie":"R3GDL","freq":408,"db":0.5},{"serie":"R3GDL","freq":409.6,"db":2.4},{"serie":"R3GDL","freq":411.2,"db":0.6},{"serie":"R3GDL","freq":414,"db":0.6},{"serie":"R3GDL","freq":417.7,"db":0.6},{"serie":"R3GDL","freq":420,"db":0.2},{"serie":"R3GDL","freq":422.6,"db":-0.4},{"serie":"R3GDL","freq":425,"db":-3},{"serie":"R3GDL","freq":428.4,"db":-6.8},{"serie":"R3GDL","freq":430,"db":-5.5},{"serie":"R3GDL","freq":431.7,"db":-4.6},{"serie":"R3GDL","freq":433.8,"db":-6.2},{"serie":"R3GDL","freq":435.8,"db":-8.6},{"serie":"R3GDL","freq":437.2,"db":-5},{"serie":"R3GDL","freq":438.6,"db":-1.1},{"serie":"R3GDL","freq":440.5,"db":-3.5},{"serie":"R3GDL","freq":442.5,"db":-6.5},{"serie":"R3GDL","freq":444,"db":-8.9},{"serie":"R3GDL","freq":446,"db":-12},{"serie":"R3GDL","freq":448.1,"db":-16},{"serie":"R3GDL","freq":449.3,"db":-19.5},{"serie":"R3GDL","freq":450.2,"db":-23.1},{"serie":"R3GDL","freq":451,"db":-15},{"serie":"R3GDL","freq":452,"db":-5},{"serie":"R3GDL","freq":453.8,"db":4.5},{"serie":"R3GDL","freq":455,"db":-5},{"serie":"R3GDL","freq":456.6,"db":-19.5},{"serie":"R3GDL","freq":457.4,"db":-10},{"serie":"R3GDL","freq":458.3,"db":-2},{"serie":"R3GDL","freq":459.2,"db":-12},{"serie":"R3GDL","freq":459.9,"db":-19.9},{"serie":"R3GDL","freq":460.8,"db":-8},{"serie":"R3GDL","freq":462,"db":3.1},{"serie":"R3GDL","freq":463.5,"db":1},{"serie":"R3GDL","freq":465.3,"db":-1.8},{"serie":"R3GDL","freq":468,"db":-3.5},{"serie":"R3GDL","freq":471.8,"db":-4.6},{"serie":"R3GDL","freq":475,"db":-5.1},{"serie":"R3GDL","freq":478.4,"db":-5.4},{"serie":"R3GDL","freq":481.7,"db":-4},{"serie":"R3GDL","freq":483.5,"db":-1.5},{"serie":"R3GDL","freq":485,"db":1},{"serie":"R3GDL","freq":486,"db":4.5},{"serie":"R3GDL","freq":487,"db":7.4},{"serie":"R3GDL","freq":488.2,"db":4},{"serie":"R3GDL","freq":489.8,"db":-0.8},{"serie":"R3GDL","freq":491.5,"db":-4},{"serie":"R3GDL","freq":493.1,"db":-7.5},{"serie":"R3GDL","freq":494.8,"db":-9.5},{"serie":"R3GDL","freq":496.4,"db":-10.7},{"serie":"R3GDL","freq":498,"db":-10},{"serie":"R3GDL","freq":499.5,"db":-8.5},{"serie":"R3GDL","freq":501.3,"db":-6.1},{"serie":"R3GDL","freq":503,"db":-3},{"serie":"R3GDL","freq":504.5,"db":1.5},{"serie":"R3GDL","freq":505.6,"db":5}
]},
"resolve":{"axis":{"x":"independent","y":"independent"}},
"layer":[
{"mark":{"type":"point","opacity":0},
 "encoding":{
  "x":{"field":"freq","type":"quantitative","scale":{"domain":[50,505.6],"nice":false,"zero":false},
   "axis":{"orient":"bottom","title":null,"labels":false,"ticks":false,"domain":false,"grid":true,"gridColor":"#c4c4c4","gridDash":[1,3],"gridWidth":1,
    "values":[60,70,80,90,110,120,130,140,160,170,180,190,210,220,230,240,260,270,280,290,310,320,330,340,360,370,380,390,410,420,430,440,460,470,480,490]}},
  "y":{"field":"db","type":"quantitative","scale":{"domain":[-60,40],"nice":false,"zero":false},
   "axis":{"orient":"left","title":null,"labels":false,"ticks":false,"domain":false,"grid":true,"gridColor":"#c4c4c4","gridDash":[1,3],"gridWidth":1,
    "values":[-58,-56,-54,-52,-48,-46,-44,-42,-38,-36,-34,-32,-28,-26,-24,-22,-18,-16,-14,-12,-8,-6,-4,-2,2,4,6,8,12,14,16,18,22,24,26,28,32,34,36,38]}}
 }},
{"mark":{"type":"line","strokeWidth":1.1},
 "encoding":{
  "x":{"field":"freq","type":"quantitative","scale":{"domain":[50,505.6],"nice":false,"zero":false},
   "axis":{"orient":"bottom","title":"Frequência (Hz)","titleFontSize":18,"titleFontWeight":"normal","titleColor":"#262626","titlePadding":6,
    "values":[50,100,150,200,250,300,350,400,450,500],"format":"d","labelFontSize":11,"labelColor":"#262626","labelPadding":17,
    "tickSize":-9,"tickColor":"#262626","domainColor":"#262626","grid":true,"gridColor":"#dcdcdc","labelFlush":false,"labelOverlap":false}},
  "y":{"field":"db","type":"quantitative","scale":{"domain":[-60,40],"nice":false,"zero":false},
   "axis":{"orient":"left","title":"Resposta Acústica [dB]","titleFontSize":18,"titleFontWeight":"normal","titleColor":"#262626","titlePadding":3,
    "values":[-60,-50,-40,-30,-20,-10,0,10,20,30,40],"labelExpr":"'' + datum.value","labelFontSize":11,"labelColor":"#262626","labelPadding":15,
    "tickSize":-9,"tickColor":"#262626","domainColor":"#262626","grid":true,"gridColor":"#dcdcdc","labelOverlap":false}},
  "color":{"field":"serie","type":"nominal","scale":{"domain":["Placa+Massa","R1GDL","R2GDL","R3GDL"],"range":["#0072BD","#D95319","#EDB120","#7E2F8E"]},
   "legend":{"title":null,"orient":"none","legendX":10,"legendY":10,"direction":"vertical","fillColor":"white","strokeColor":"#262626","padding":3,"cornerRadius":0,
    "symbolType":"M-2.27,0H2.27","symbolSize":225,"symbolOffset":9.5,"symbolStrokeWidth":1.3,"labelFontSize":10,"labelColor":"#000000","labelFont":"Liberation Sans","rowPadding":0,"labelOffset":13}}
 }}
]
}
